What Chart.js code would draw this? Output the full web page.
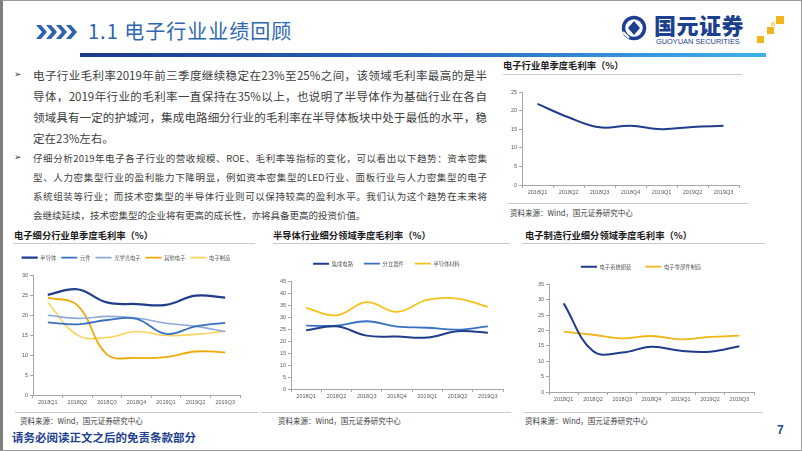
<!DOCTYPE html>
<html lang="zh-CN">
<head>
<meta charset="UTF-8" />
<title>1.1 电子行业业绩回顾</title>
<script src="https://cdn.jsdelivr.net/npm/chart.js"></script>
<style>
  * { box-sizing: border-box; }
  body {
    margin: 0; width: 802px; height: 451px; position: relative; overflow: hidden;
    background: #fff; color: #404040;
    font-family: 'Noto Sans CJK SC', 'Liberation Sans', sans-serif;
  }
  .frame { position: absolute; left: 0; top: 0; width: 802px; height: 451px;
    border: 1px solid #9a9a9a; border-left: 3px solid #7f7f7f; pointer-events: none; }
  .abs { position: absolute; white-space: nowrap; }
  .bar { position: absolute; height: 4px; left: 80px; top: 53px; width: 686px;
    background: linear-gradient(to right, #1b3a8a, #2a6cc4 55%, #3fb0ee); }
  .title { left: 88px; top: 18px; font-size: 20px; line-height: 26px; color: #2d68b1; letter-spacing: 1px; }
  .p1 { font-size: 11.5px; line-height: 21px; width: 454px; left: 33px;
    text-align: justify; text-align-last: justify; }
  .p2 { font-size: 9.5px; line-height: 19px; width: 454px; left: 33px;
    text-align: justify; text-align-last: justify; }
  .last { text-align-last: left; }
  .bullet { font-family: 'DejaVu Sans'; font-size: 9px; color: #404040; left: 14px; }
  .ctitle { font-size: 9.3px; font-weight: 700; color: #1a1a1a; line-height: 14px; }
  .src { font-size: 7.5px; color: #404040; line-height: 12px; }
  .rule { position: absolute; height: 1px; background: #c4ccd8; }
  canvas { position: absolute; }
</style>
</head>
<body>
<div class="frame"></div>

<!-- header -->
<svg class="abs" style="left:36px;top:24px" width="48" height="16" viewBox="0 0 48 16">
  <g fill="#2f63b0">
    <polygon points="0,1 5,1 11,8 5,15 0,15 6,8" />
    <polygon points="10,1 15,1 21,8 15,15 10,15 16,8" />
    <polygon points="20,1 25,1 31,8 25,15 20,15 26,8" />
    <polygon points="30,1 35,1 41,8 35,15 30,15 36,8" />
  </g>
</svg>
<div class="abs title">1.1 电子行业业绩回顾</div>
<div class="bar"></div>

<!-- logo -->
<svg class="abs" style="left:621px;top:15px" width="28" height="28" viewBox="0 0 28 28">
  <circle cx="13" cy="13" r="10.5" fill="none" stroke="#1c3f8e" stroke-width="3.5" />
  <path d="M13 6 L19 13 L13 20 L7 13 Z" fill="#1c3f8e" />
  <path d="M2 17 L8 23" stroke="#fff" stroke-width="2" />
</svg>
<div class="abs" style="left:654px;top:10px;font-size:22px;font-weight:900;color:#1c3f8e;line-height:28px;letter-spacing:0.5px">国元证券</div>
<div class="abs" style="left:656px;top:37px;font-family:'Liberation Sans';font-size:7.4px;color:#1c3f8e;line-height:9px">GUOYUAN SECURITIES</div>
<div class="abs" style="left:776px;top:16px;width:8px;height:8px;background:#f3b51b"></div>
<div class="abs" style="left:767px;top:27px;width:7px;height:7px;background:#f3b51b"></div>
<div class="abs" style="left:757px;top:36px;width:7px;height:7px;background:#f3b51b"></div>
<div class="abs" style="left:771px;top:22px;width:4px;height:4px;background:#f8d98a"></div>

<!-- text -->
<div class="abs bullet" style="top:69px">➢</div>
<div class="abs p1" style="top:64.5px">电子行业毛利率2019年前三季度继续稳定在23%至25%之间，该领域毛利率最高的是半</div>
<div class="abs p1" style="top:85.5px">导体，2019年行业的毛利率一直保持在35%以上，也说明了半导体作为基础行业在各自</div>
<div class="abs p1" style="top:106.5px">领域具有一定的护城河，集成电路细分行业的毛利率在半导体板块中处于最低的水平，稳</div>
<div class="abs p1 last" style="top:127.5px">定在23%左右。</div>
<div class="abs bullet" style="top:152px">➢</div>
<div class="abs p2" style="top:148.5px">仔细分析2019年电子各子行业的营收规模、ROE、毛利率等指标的变化，可以看出以下趋势：资本密集</div>
<div class="abs p2" style="top:167.5px">型、人力密集型行业的盈利能力下降明显，例如资本密集型的LED行业、面板行业与人力密集型的电子</div>
<div class="abs p2" style="top:186.5px">系统组装等行业；而技术密集型的半导体行业则可以保持较高的盈利水平。我们认为这个趋势在未来将</div>
<div class="abs p2 last" style="top:205.5px">会继续延续，技术密集型的企业将有更高的成长性，亦将具备更高的投资价值。</div>

<!-- chart titles, rules, sources -->
<div class="abs ctitle" style="left:503px;top:58px">电子行业单季度毛利率（%）</div>
<div class="rule" style="left:503px;top:74px;width:239px"></div>
<canvas id="chartTop" width="245" height="120" style="left:502px;top:80px"></canvas>
<div class="rule" style="left:508px;top:203px;width:240px"></div>
<div class="abs src" style="left:510px;top:207px">资料来源：Wind，国元证券研究中心</div>

<div class="abs ctitle" style="left:14px;top:228px">电子细分行业单季度毛利率（%）</div>
<div class="rule" style="left:14px;top:243px;width:241px"></div>
<canvas id="chartSub" width="236" height="161" style="left:12px;top:246px"></canvas>

<div class="abs ctitle" style="left:273px;top:228px">半导体行业细分领域季度毛利率（%）</div>
<div class="rule" style="left:273px;top:243px;width:237px"></div>
<canvas id="chartSemi" width="240" height="155" style="left:270px;top:246px"></canvas>

<div class="abs ctitle" style="left:525px;top:228px">电子制造行业细分领域季度毛利率（%）</div>
<div class="rule" style="left:522px;top:243px;width:243px"></div>
<canvas id="chartMfg" width="232" height="158" style="left:528px;top:246px"></canvas>

<div class="rule" style="left:15px;top:412px;width:243px"></div>
<div class="rule" style="left:261px;top:412px;width:250px"></div>
<div class="rule" style="left:524px;top:412px;width:238px"></div>
<div class="abs src" style="left:20px;top:415px">资料来源：Wind，国元证券研究中心</div>
<div class="abs src" style="left:278px;top:415px">资料来源：Wind，国元证券研究中心</div>
<div class="abs src" style="left:525px;top:415px">资料来源：Wind，国元证券研究中心</div>

<!-- footer -->
<div class="abs" style="left:12px;top:429px;font-size:11.5px;font-weight:700;color:#1f3f8f;line-height:16px">请务必阅读正文之后的免责条款部分</div>
<div class="abs" style="left:777px;top:422px;font-family:'Liberation Sans';font-size:12px;font-weight:700;color:#1f4e9a;line-height:16px">7</div>

<script>
const quarters = ['2018Q1', '2018Q2', '2018Q3', '2018Q4', '2019Q1', '2019Q2', '2019Q3'];

// 电子行业单季度毛利率
const electronicsTotal = [21.8, 18.2, 15.5, 15.9, 15.0, 15.6, 15.9];

// 电子细分行业
const semiconductor   = [25.1, 26.5, 23.2, 22.8, 22.6, 24.9, 24.4];
const components      = [18.2, 17.7, 18.8, 19.1, 15.3, 17.2, 18.1];
const optoelectronics = [20.0, 19.2, 19.7, 19.3, 18.0, 17.2, 15.9];
const otherElectronic = [24.4, 22.5, 10.2, 9.3, 9.5, 10.9, 10.7];
const electronicMfg   = [23.2, 15.0, 14.4, 15.9, 14.9, 15.2, 16.0];

// 半导体细分领域
const integratedCircuit = [24.5, 26.2, 22.3, 21.9, 21.5, 24.1, 23.5];
const discreteDevices   = [26.5, 26.5, 28.3, 26.1, 25.6, 24.8, 26.2];
const semiMaterials     = [33.9, 30.8, 36.3, 32.2, 37.2, 37.8, 34.3];

// 电子制造细分领域
const systemAssembly = [28.8, 13.3, 12.8, 14.7, 13.4, 13.1, 14.9];
const partsMfg       = [19.6, 18.6, 17.4, 18.2, 17.1, 17.9, 18.3];

const NAVY = '#1f3d8c', BLUE = '#3a6fc2', PALE = '#8eabd8', GOLD = '#efaa0a', YELLOW = '#fbd35c';
const axisColor = '#a6a6a6';
const tickFont = { family: 'Liberation Sans', size: 5.5 };

// leaves a little extra room under the legend row, like the Excel original
const legendSpacer = {
  id: 'legendSpacer',
  beforeLayout(chart, args, opts) {
    const lg = chart.legend;
    if (!lg || lg._spaced) return;
    const fit = lg.fit;
    lg.fit = function () { fit.call(this); this.height += opts.extra || 0; };
    lg._spaced = true;
  }
};

function lineChart(id, series, yMax, yStep, box) {
  const canvas = document.getElementById(id);
  if (!canvas) return;
  return new Chart(canvas.getContext('2d'), {
    type: 'line',
    data: {
      labels: quarters,
      datasets: series.map(s => ({
        label: s.label,
        data: s.data,
        borderColor: s.color,
        backgroundColor: s.color,
        borderWidth: s.width,
        pointRadius: 0,
        tension: 0.4,
        fill: false
      }))
    },
    plugins: [legendSpacer],
    options: {
      responsive: false,
      animation: false,
      layout: { padding: box.pad },
      plugins: {
        tooltip: { enabled: false },
        legendSpacer: { extra: 5 },
        legend: {
          display: box.legend,
          labels: {
            usePointStyle: true,
            pointStyle: 'line',
            pointStyleWidth: 16,
            padding: box.legendGap || 5,
            color: '#595959',
            font: { family: 'Noto Sans CJK SC', size: 5.3 }
          }
        }
      },
      scales: {
        x: {
          offset: true,
          grid: { display: true, offset: true, drawOnChartArea: false, tickLength: 3, color: axisColor },
          border: { color: axisColor },
          ticks: { font: tickFont, color: '#595959', padding: 1, maxRotation: 0, autoSkip: false },
          afterFit: s => { s.height = box.xh; }
        },
        y: {
          min: 0, max: yMax,
          grid: { drawOnChartArea: false, tickLength: 3, color: axisColor },
          border: { color: axisColor },
          ticks: { stepSize: yStep, font: tickFont, color: '#595959', padding: 2 },
          afterFit: s => { s.width = box.yw; }
        }
      }
    }
  });
}

lineChart('chartTop', [
  { label: '电子', data: electronicsTotal, color: NAVY, width: 2 }
], 25, 5, { pad: { top: 7, right: 8, left: 0, bottom: 0 }, yw: 20, xh: 15, legend: false });

lineChart('chartSub', [
  { label: '半导体', data: semiconductor, color: NAVY, width: 2.2 },
  { label: '元件', data: components, color: BLUE, width: 1.8 },
  { label: '光学光电子', data: optoelectronics, color: PALE, width: 1.6 },
  { label: '其他电子', data: otherElectronic, color: GOLD, width: 1.8 },
  { label: '电子制造', data: electronicMfg, color: YELLOW, width: 1.6 }
], 30, 5, { pad: { top: 4, right: 8, left: 0, bottom: 0 }, yw: 21, xh: 12, legend: true, legendGap: 5 });

lineChart('chartSemi', [
  { label: '集成电路', data: integratedCircuit, color: NAVY, width: 2 },
  { label: '分立器件', data: discreteDevices, color: BLUE, width: 1.8 },
  { label: '半导体材料', data: semiMaterials, color: '#f5c21a', width: 1.8 }
], 45, 5, { pad: { top: 4, right: 7, left: 0, bottom: 0 }, yw: 21, xh: 12, legend: true, legendGap: 11 });

lineChart('chartMfg', [
  { label: '电子系统组装', data: systemAssembly, color: NAVY, width: 2 },
  { label: '电子零部件制造', data: partsMfg, color: '#f2b516', width: 1.8 }
], 35, 5, { pad: { top: 4, right: 6, left: 0, bottom: 0 }, yw: 21, xh: 12, legend: true, legendGap: 14 });
</script>
</body>
</html>
